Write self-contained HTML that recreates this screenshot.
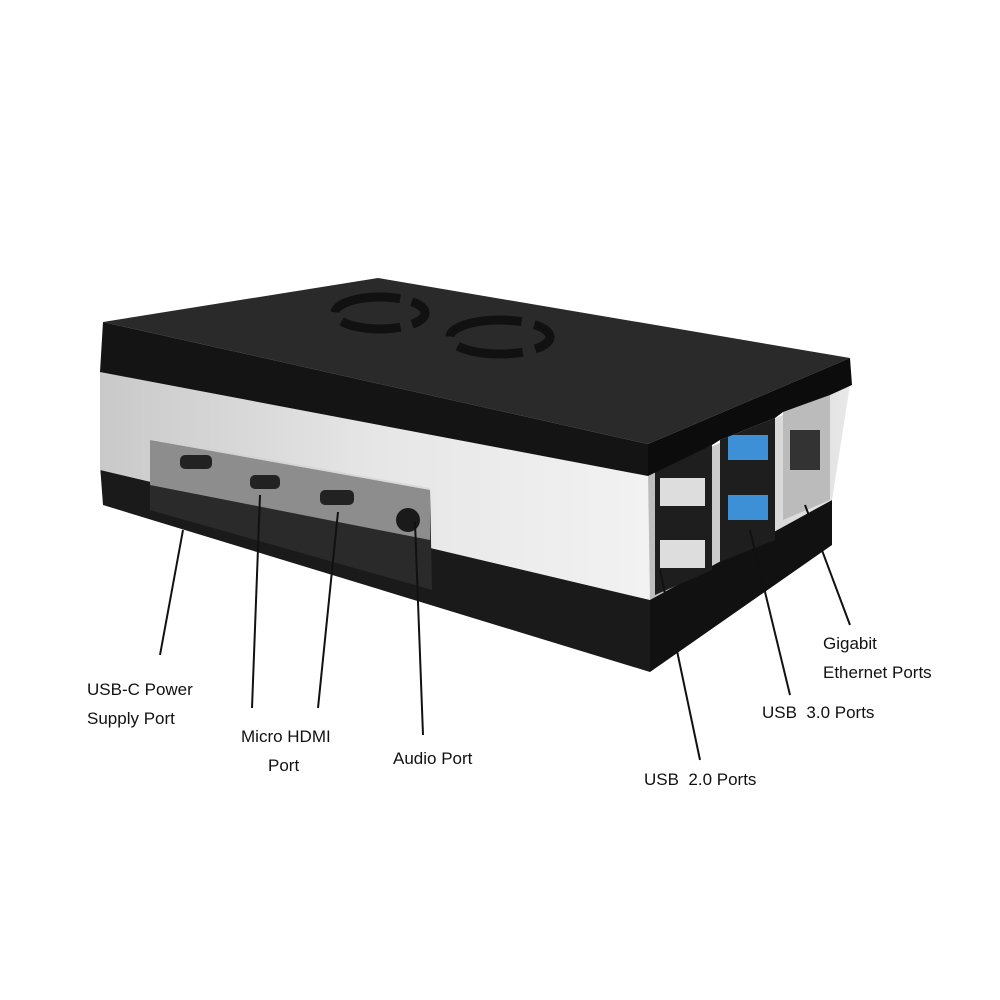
<!DOCTYPE html>
<html><head><meta charset="utf-8"><style>
html,body{margin:0;padding:0;background:#fff;}
svg{display:block}
text{font-family:"Liberation Sans",sans-serif;font-size:17px;fill:#111}
</style></head><body>
<svg width="1000" height="1000" viewBox="0 0 1000 1000" xmlns="http://www.w3.org/2000/svg">
<defs>
<linearGradient id="frost" x1="0" y1="0" x2="1" y2="0">
<stop offset="0" stop-color="#c9c9c9"/><stop offset="0.5" stop-color="#e6e6e6"/><stop offset="1" stop-color="#f2f2f2"/>
</linearGradient>
<linearGradient id="frostR" x1="0" y1="0" x2="1" y2="0">
<stop offset="0" stop-color="#bdbdbd"/><stop offset="1" stop-color="#e8e8e8"/>
</linearGradient>
</defs>
<polygon points="100,465 650,595 650,672 103,505" fill="#1a1a1a"/>
<polygon points="650,595 832,500 832,545 650,672" fill="#111"/>
<polygon points="100,372 648,475 650,600 100,470" fill="url(#frost)"/>
<polygon points="648,475 850,385 832,500 650,600" fill="url(#frostR)"/>
<polygon points="150,440 430,490 432,590 150,510" fill="#2a2a2a"/>
<polygon points="150,438 430,488 430,540 150,485" fill="#d0d0d0" opacity="0.6"/>
<rect x="180" y="455" width="32" height="14" rx="5" fill="#222"/>
<rect x="250" y="475" width="30" height="14" rx="5" fill="#222"/>
<rect x="320" y="490" width="34" height="15" rx="5" fill="#222"/>
<circle cx="408" cy="520" r="12" fill="#1a1a1a"/>
<polygon points="655,470 712,445 712,570 655,595" fill="#1e1e1e"/>
<rect x="660" y="478" width="45" height="28" fill="#ddd"/>
<rect x="660" y="540" width="45" height="28" fill="#ddd"/>
<polygon points="720,440 775,418 775,540 720,562" fill="#1e1e1e"/>
<rect x="728" y="435" width="40" height="25" fill="#3d8fd6"/>
<rect x="728" y="495" width="40" height="25" fill="#3d8fd6"/>
<polygon points="783,412 830,395 830,500 783,520" fill="#bbb"/>
<rect x="790" y="430" width="30" height="40" fill="#333"/>
<polygon points="103,322 378,278 850,358 648,444" fill="#2a2a2a"/>
<polygon points="103,322 648,444 648,476 100,372" fill="#141414"/>
<polygon points="648,444 850,358 852,385 830,395 783,412 775,418 720,440 712,445 648,476" fill="#0c0c0c"/>
<ellipse cx="380" cy="313" rx="45" ry="16" fill="none" stroke="#111" stroke-width="9" stroke-dasharray="60 12 70 12" stroke-dashoffset="-30"/>
<ellipse cx="500" cy="337" rx="50" ry="17" fill="none" stroke="#111" stroke-width="9" stroke-dasharray="66 13 77 13" stroke-dashoffset="-33"/>
<g stroke="#111" stroke-width="2">
<line x1="183" y1="530" x2="160" y2="655"/>
<line x1="260" y1="495" x2="252" y2="708"/>
<line x1="338" y1="512" x2="318" y2="708"/>
<line x1="415" y1="522" x2="423" y2="735"/>
<line x1="660" y1="570" x2="700" y2="760"/>
<line x1="750" y1="530" x2="790" y2="695"/>
<line x1="805" y1="505" x2="850" y2="625"/>
</g>
<text x="87" y="695">USB-C Power</text>
<text x="87" y="724">Supply Port</text>
<text x="241" y="742">Micro HDMI</text>
<text x="268" y="771">Port</text>
<text x="393" y="764">Audio Port</text>
<text x="644" y="785" xml:space="preserve">USB  2.0 Ports</text>
<text x="762" y="718" xml:space="preserve">USB  3.0 Ports</text>
<text x="823" y="649">Gigabit</text>
<text x="823" y="678">Ethernet Ports</text>
</svg>
</body></html>
